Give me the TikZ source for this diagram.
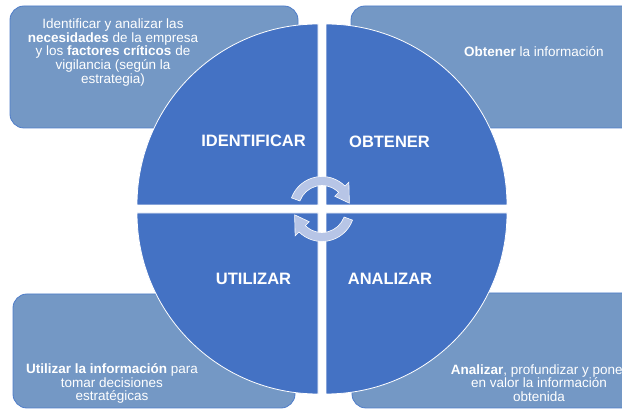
\documentclass[tikz,border=0pt]{standalone}
\usepackage{fontspec}
\setmainfont{Liberation Sans}
\definecolor{quad}{HTML}{4472C4}
\definecolor{boxfill}{HTML}{7498C5}
\definecolor{boxline}{HTML}{4F7DC9}
\definecolor{arrowc}{HTML}{B7C5E6}
\tikzset{
  infobox/.style={fill=boxfill, draw=boxline, line width=0.8pt, rounded corners=14pt},
  quadrant/.style={fill=quad, draw=white, line width=0.8pt},
  cyclearrow/.style={fill=arrowc, draw=white, line width=0.6pt},
  smalltext/.style={text=white, align=center, inner sep=0pt, font=\fontsize{13.5}{13.7}\selectfont},
  biglabel/.style={text=white, inner sep=0pt, font=\fontsize{16.5}{18}\selectfont\bfseries}
}
\begin{document}
\begin{tikzpicture}[x=1pt,y=1pt]
\useasboundingbox (0,0) rectangle (622,410);
\clip (0,0) rectangle (622,410);
% background boxes
\path[infobox] (10,282) rectangle (298,404);
\path[infobox] (351,282) rectangle (670,404);
\path[infobox] (13,2) rectangle (295,116);
\path[infobox] (352,2) rectangle (670,117);
% quadrants
\path[quadrant] (318,205) -- (137,205) arc[start angle=180,end angle=90,radius=181] -- cycle;
\path[quadrant] (326,205) -- (326,386) arc[start angle=90,end angle=0,radius=181] -- cycle;
\path[quadrant] (318,197) -- (137,197) arc[start angle=180,end angle=270,radius=181] -- cycle;
\path[quadrant] (326,197) -- (507,197) arc[start angle=0,end angle=-90,radius=181] -- cycle;
% cycle arrows
\begin{scope}[shift={(322,201)}]
\path[cyclearrow] (160:32.5) arc[start angle=160,end angle=45,radius=32.5]
  -- (45:38) -- (12:28) -- (45:18) -- (45:23.5)
  arc[start angle=45,end angle=160,radius=23.5] -- cycle;
\path[cyclearrow] (-20:32.5) arc[start angle=-20,end angle=-135,radius=32.5]
  -- (-135:38) -- (-168:28) -- (-135:18) -- (-135:23.5)
  arc[start angle=-135,end angle=-20,radius=23.5] -- cycle;
\end{scope}
% labels
\node[biglabel] (identificar) at (253.5,269.3) {IDENTIFICAR};
\node[biglabel] (obtener) at (389.5,268.5) {OBTENER};
\node[biglabel] (utilizar) at (253.5,131.3) {UTILIZAR};
\node[biglabel] (analizar) at (390,131.3) {ANALIZAR};
% box texts
\node[smalltext] (t1) at (113,357.5) {Identificar y analizar las\\\textbf{necesidades} de la empresa\\y los \textbf{factores críticos} de\\vigilancia (según la\\estrategia)};
\node[smalltext] (t2) at (534,358) {\textbf{Obtener} la información};
\node[smalltext] (t3) at (112,26.5) {\textbf{Utilizar la información} para\\tomar decisiones\\estratégicas};
\node[smalltext] (t4) at (539,27) {\textbf{Analizar}, profundizar y poner\\en valor la información\\obtenida};
\end{tikzpicture}
\end{document}
